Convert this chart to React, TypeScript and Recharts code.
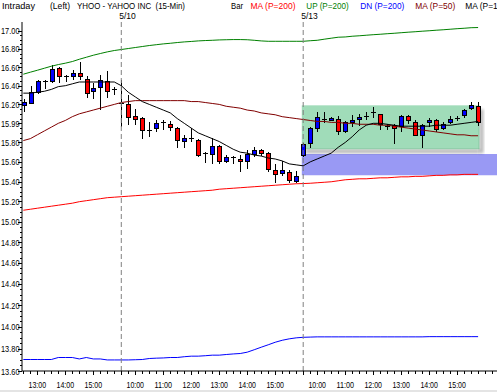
import React from "react";
import {
  ComposedChart,
  Bar,
  Line,
  XAxis,
  YAxis,
  ReferenceArea,
  ReferenceLine,
} from "recharts";

// 15-min bars: 0-13 = 5/9 12:30-15:45, 14-39 = 5/10, 40-65 = 5/13
const opens = [
  16.19, 16.22, 16.33, 16.45, 16.45, 16.59, 16.5, 16.5, 16.54, 16.47, 16.34, 16.39, 16.45, 16.36,
  16.22, 16.2, 16.08, 16.06, 15.93, 15.95, 16.01, 15.99, 15.95, 15.82, 15.85, 15.83, 15.69, 15.68,
  15.76, 15.61, 15.65, 15.63, 15.61, 15.68, 15.72, 15.69, 15.52, 15.49, 15.5, 15.41,
  15.67, 15.79, 15.95, 16.05, 16.04, 16.05, 15.92, 16.01, 16.05, 16.08, 16.12, 16.1, 15.97, 15.98,
  15.97, 16.08, 16.01, 15.88, 16.01, 16.03, 15.95, 16.01, 16.06, 16.09, 16.16, 16.18,
];
const highs = [
  16.26, 16.4, 16.46, 16.46, 16.62, 16.6, 16.52, 16.57, 16.66, 16.5, 16.43, 16.52, 16.56, 16.39,
  16.46, 16.3, 16.15, 16.07, 16.01, 16.03, 16.03, 16.02, 15.96, 15.88, 15.95, 15.84, 15.7, 15.85,
  15.77, 15.67, 15.66, 15.67, 15.72, 15.75, 15.73, 15.7, 15.58, 15.61, 15.52, 15.51,
  15.79, 15.96, 16.12, 16.12, 16.07, 16.08, 16.02, 16.09, 16.1, 16.12, 16.17, 16.1, 15.99, 15.99,
  16.09, 16.09, 16.03, 15.99, 16.06, 16.05, 16.01, 16.08, 16.08, 16.15, 16.23, 16.23,
];
const lows = [
  16.13, 16.21, 16.32, 16.38, 16.44, 16.44, 16.45, 16.47, 16.47, 16.28, 16.27, 16.15, 16.28, 16.31,
  15.97, 15.99, 15.99, 15.85, 15.87, 15.92, 15.94, 15.93, 15.75, 15.75, 15.82, 15.66, 15.6, 15.59,
  15.59, 15.6, 15.59, 15.51, 15.54, 15.66, 15.67, 15.51, 15.4, 15.47, 15.4, 15.4,
  15.66, 15.75, 15.92, 16.01, 16.03, 15.89, 15.91, 15.97, 15.98, 16.05, 16.07, 15.94, 15.94, 15.79,
  15.92, 16.0, 15.88, 15.75, 15.97, 15.92, 15.94, 16.0, 16.03, 16.07, 16.15, 15.98,
];
const closes = [
  16.23, 16.33, 16.45, 16.45, 16.58, 16.51, 16.5, 16.54, 16.5, 16.32, 16.38, 16.46, 16.34, 16.36,
  16.22, 16.07, 16.05, 15.93, 15.93, 16.0, 16.01, 15.96, 15.83, 15.85, 15.85, 15.67, 15.69, 15.76,
  15.61, 15.65, 15.65, 15.61, 15.68, 15.72, 15.69, 15.53, 15.48, 15.52, 15.42, 15.46,
  15.78, 15.95, 16.07, 16.05, 16.06, 15.92, 16.01, 16.04, 16.07, 16.08, 16.12, 15.99, 15.97, 15.95,
  16.08, 16.03, 15.88, 15.98, 16.03, 15.94, 15.99, 16.05, 16.06, 16.14, 16.19, 16.01,
];

const ma10 = [
  16.32, 16.32, 16.33, 16.34, 16.36, 16.39, 16.4, 16.42, 16.44, 16.44, 16.44, 16.44, 16.44, 16.44,
  16.4, 16.33, 16.28, 16.23, 16.2, 16.17, 16.14, 16.11, 16.05, 16.0, 15.95, 15.9, 15.87, 15.84,
  15.81, 15.77, 15.73, 15.7, 15.69, 15.67, 15.66, 15.64, 15.63, 15.61, 15.58, 15.57,
  15.56, 15.6, 15.63, 15.66, 15.69, 15.75, 15.8, 15.86, 15.93, 15.98, 16.0, 16.0, 15.99, 15.98,
  15.97, 15.97, 15.97, 15.97, 15.97, 15.98, 15.98, 15.98, 15.99, 16.0, 16.01, 16.02,
];
const ma50 = [
  15.82, 15.84, 15.88, 15.92, 15.96, 16.0, 16.03, 16.07, 16.1, 16.12, 16.14, 16.16, 16.18, 16.2,
  16.22, 16.23, 16.24, 16.24, 16.24, 16.24, 16.24, 16.24, 16.24, 16.24, 16.23, 16.23, 16.22, 16.21,
  16.2, 16.18, 16.17, 16.16, 16.14, 16.13, 16.11, 16.1, 16.09, 16.07, 16.06, 16.05,
  16.04, 16.03, 16.02, 16.02, 16.01, 16.01, 16.0, 16.0, 15.99, 15.99, 15.99, 15.98, 15.98, 15.97,
  15.96, 15.95, 15.94, 15.93, 15.92, 15.91, 15.9, 15.89, 15.88, 15.88, 15.87, 15.87,
];
const ma200 = [
  15.113, 15.123, 15.133, 15.143, 15.153, 15.163, 15.173, 15.183, 15.198, 15.208, 15.218, 15.228,
  15.238, 15.243,
  15.248, 15.253, 15.258, 15.263, 15.268, 15.273, 15.278, 15.283, 15.288, 15.293, 15.298, 15.303,
  15.308, 15.313, 15.323, 15.328, 15.333, 15.338, 15.343, 15.348, 15.353, 15.358, 15.363, 15.368,
  15.373, 15.378,
  15.38, 15.383, 15.388, 15.393, 15.398, 15.408, 15.418, 15.423, 15.428, 15.428, 15.433, 15.438,
  15.438, 15.443, 15.448, 15.448, 15.453, 15.453, 15.458, 15.463, 15.463, 15.468, 15.468, 15.473,
  15.473, 15.473,
];
const up200 = [
  16.524, 16.546, 16.567, 16.589, 16.611, 16.629, 16.644, 16.662, 16.687, 16.709, 16.731, 16.75,
  16.768, 16.783,
  16.794, 16.805, 16.816, 16.827, 16.838, 16.847, 16.856, 16.863, 16.871, 16.878, 16.883, 16.889,
  16.893, 16.896, 16.9, 16.902, 16.904, 16.904, 16.902, 16.896, 16.889, 16.885, 16.885, 16.885,
  16.885, 16.885,
  16.885, 16.891, 16.896, 16.908, 16.919, 16.93, 16.933, 16.941, 16.946, 16.952, 16.958, 16.963,
  16.969, 16.974, 16.98, 16.986, 16.991, 16.997, 17.002, 17.008, 17.013, 17.019, 17.025, 17.03,
  17.036, 17.038,
];
const dn200 = [
  13.703, 13.703, 13.703, 13.703, 13.703, 13.721, 13.721, 13.721, 13.708, 13.721, 13.708, 13.708,
  13.699, 13.699,
  13.699, 13.699, 13.701, 13.703, 13.712, 13.715, 13.717, 13.721, 13.721, 13.728, 13.733, 13.733,
  13.737, 13.742, 13.742, 13.748, 13.753, 13.757, 13.769, 13.791, 13.814, 13.836, 13.859, 13.877,
  13.89, 13.899,
  13.904, 13.906, 13.908, 13.908, 13.908, 13.908, 13.908, 13.908, 13.908, 13.908, 13.908, 13.908,
  13.908, 13.908, 13.908, 13.908, 13.908, 13.908, 13.91, 13.91, 13.91, 13.91, 13.91, 13.91,
  13.91, 13.91,
];

const xTickIdx = [2, 6, 10, 16, 20, 24, 28, 32, 36, 42, 46, 50, 54, 58, 62];
const xTickLabels = [
  "13:00", "14:00", "15:00",
  "10:00", "11:00", "12:00", "13:00", "14:00", "15:00",
  "10:00", "11:00", "12:00", "13:00", "14:00", "15:00",
];
const dayStarts = [14, 40];
const dayLabels = ["5/10", "5/13"];

const yMajor = [
  13.6, 13.8, 14.0, 14.2, 14.4, 14.6, 14.8, 15.0, 15.2, 15.4, 15.6, 15.8, 16.0, 16.2, 16.4, 16.6,
  16.8, 17.0,
];
const yLabels = [
  "13.60", "13.80", "14.00", "14.20", "14.40", "14.60", "14.80", "15.00", "15.20", "15.40",
  "15.60", "15.80", "15.99", "16.20", "16.40", "16.60", "16.80", "17.00",
];

// highlighted zones
const boxX = [39.8, 65.2];
const boxY = [15.73, 16.19];
const bandX = [39.8, 67.7];
const bandY = [15.465, 15.68];

const X_DOMAIN = [-0.19, 67.7];
const Y_DOMAIN = [13.6, 17.1];

const FONT = "'Liberation Sans', Arial, sans-serif";

const data = opens.map((o, i) => ({
  i,
  range: [lows[i], highs[i]],
  o,
  c: closes[i],
  ma10: ma10[i],
  ma50: ma50[i],
  ma200: ma200[i],
  up200: up200[i],
  dn200: dn200[i],
}));

const yTicks: number[] = [];
yMajor.forEach((m, k) => {
  yTicks.push(m);
  if (k < yMajor.length - 1) [0.05, 0.1, 0.15].forEach((d) => yTicks.push(+(m + d).toFixed(2)));
});
const xTicks: number[] = [];
for (let i = 0; i <= 67; i++) xTicks.push(i);

function Candle(props: any) {
  const { x, y, width, height, payload } = props;
  if (x == null || !payload) return null;
  const top = Math.min(y, y + height);
  const bot = Math.max(y, y + height);
  const [lo, hi] = payload.range;
  const lnL = Math.log(lo);
  const lnH = Math.log(hi);
  const py = (v: number) => bot - ((Math.log(v) - lnL) / (lnH - lnL)) * (bot - top);
  const cx = Math.round(x + width / 2);
  const { o, c } = payload;
  const yT = Math.round(py(Math.max(o, c)));
  const yB = Math.round(py(Math.min(o, c)));
  const col = c > o ? "#0000ff" : "#ff0000";
  return (
    <g>
      <line x1={cx + 0.5} x2={cx + 0.5} y1={Math.round(top)} y2={Math.round(bot) + 1} stroke="#000" />
      {o === c || yB - yT < 1 ? (
        <line x1={cx - 2} x2={cx + 3} y1={yT + 0.5} y2={yT + 0.5} stroke="#000" />
      ) : (
        <rect x={cx - 1.5} y={yT + 0.5} width={4} height={yB - yT} fill={col} stroke="#000" />
      )}
    </g>
  );
}

function XTick(props: any) {
  const { x, y, payload } = props;
  const v = payload.value;
  const k = xTickIdx.indexOf(v);
  const long = k >= 0 || dayStarts.includes(v);
  const px = Math.round(x) + 0.5;
  return (
    <g>
      <line x1={px} x2={px} y1={y} y2={y + (long ? 4 : 3)} stroke="#000" />
      {k >= 0 && (
        <text
          x={x}
          y={y + 16.5}
          textAnchor="middle"
          fontSize={9.5}
          fontFamily={FONT}
          fill="#000"
          textLength={17.5}
          lengthAdjust="spacingAndGlyphs"
        >
          {xTickLabels[k]}
        </text>
      )}
    </g>
  );
}

function YTick(props: any) {
  const { x, y, payload } = props;
  const v = payload.value;
  const k = yMajor.findIndex((m) => Math.abs(m - v) < 1e-6);
  const py = Math.round(y) + 0.5;
  return (
    <g>
      <line x1={x - (k >= 0 ? 4 : 2)} x2={x} y1={py} y2={py} stroke="#000" />
      {k >= 0 && (
        <text
          x={x - 2.5}
          y={y + 3.5}
          textAnchor="end"
          fontSize={9.5}
          fontFamily={FONT}
          fill="#000"
          textLength={18.5}
          lengthAdjust="spacingAndGlyphs"
        >
          {yLabels[k]}
        </text>
      )}
    </g>
  );
}

function GreenBox(props: any) {
  const { x, y, width, height } = props;
  return (
    <g>
      <defs>
        <filter id="soft" x="-20%" y="-20%" width="140%" height="140%">
          <feGaussianBlur stdDeviation="1.5" />
        </filter>
      </defs>
      <rect x={x + width} y={y + 4} width={4} height={height} fill="#000" opacity={0.28} filter="url(#soft)" />
      <rect x={x + 4} y={y + height} width={width - 4} height={4} fill="#000" opacity={0.28} filter="url(#soft)" />
      <rect x={x} y={y} width={width} height={height} fill="rgb(18,168,80)" fillOpacity={0.4} />
    </g>
  );
}

function DayLabel(text: string) {
  return (p: any) => {
    const vb = p.viewBox || {};
    return (
      <text x={vb.x - 2} y={19} fontSize={8.5} fontFamily={FONT} fill="#000">
        {text}
      </text>
    );
  };
}

const header = [
  { t: "Intraday", x: 2, w: 33, c: "#000" },
  { t: "(Left)", x: 50, w: 20, c: "#000" },
  { t: "YHOO - YAHOO INC  (15-Min)", x: 77, w: 108, c: "#000" },
  { t: "Bar", x: 231, w: 12, c: "#000" },
  { t: "MA (P=200)", x: 250.5, w: 45, c: "#ff0000" },
  { t: "UP (P=200)", x: 306.3, w: 42.4, c: "#008000" },
  { t: "DN (P=200)", x: 360.3, w: 44, c: "#0000ff" },
  { t: "MA (P=50)", x: 415.3, w: 40, c: "#800000" },
  { t: "MA (P=10)", x: 465.3, w: 40, c: "#000" },
];

export default function App() {
  return (
    <div
      style={{
        position: "absolute",
        left: 0,
        top: 0,
        width: 497,
        height: 392,
        overflow: "hidden",
        background: "#fff",
        fontFamily: FONT,
      }}
    >
      <ComposedChart width={497} height={392} data={data} margin={{ top: 22, right: 0, bottom: 0, left: 0 }}>
        <XAxis
          type="number"
          dataKey="i"
          domain={X_DOMAIN}
          allowDataOverflow
          ticks={xTicks}
          interval={0}
          tick={(p: any) => <XTick {...p} />}
          tickLine={false}
          tickSize={0}
          tickMargin={0}
          height={21}
          axisLine={{ stroke: "#000" }}
        />
        <YAxis
          type="number"
          scale="log"
          domain={Y_DOMAIN}
          allowDataOverflow
          ticks={yTicks}
          interval={0}
          tick={(p: any) => <YTick {...p} />}
          tickLine={false}
          tickSize={0}
          tickMargin={0}
          width={22}
          axisLine={{ stroke: "#000" }}
        />
        <Bar dataKey="range" isAnimationActive={false} shape={(p: any) => <Candle {...p} />} />
        <Line dataKey="ma200" stroke="#ff0000" strokeWidth={1} dot={false} activeDot={false} isAnimationActive={false} />
        <Line dataKey="up200" stroke="#008000" strokeWidth={1} dot={false} activeDot={false} isAnimationActive={false} />
        <Line dataKey="dn200" stroke="#0000ff" strokeWidth={1} dot={false} activeDot={false} isAnimationActive={false} />
        <Line dataKey="ma50" stroke="#800000" strokeWidth={1} dot={false} activeDot={false} isAnimationActive={false} />
        <Line dataKey="ma10" stroke="#000000" strokeWidth={1} dot={false} activeDot={false} isAnimationActive={false} />
        <ReferenceArea
          x1={bandX[0]}
          x2={bandX[1]}
          y1={bandY[0]}
          y2={bandY[1]}
          fill="rgb(70,70,235)"
          fillOpacity={0.55}
          stroke="none"
        />
        <ReferenceArea
          x1={boxX[0]}
          x2={boxX[1]}
          y1={boxY[0]}
          y2={boxY[1]}
          shape={(p: any) => <GreenBox {...p} />}
        />
        {dayStarts.map((d, k) => (
          <ReferenceLine
            key={d}
            x={d}
            stroke="#808080"
            strokeDasharray="5 3"
            label={{ content: DayLabel(dayLabels[k]) }}
          />
        ))}
      </ComposedChart>
      <svg
        width={497}
        height={22}
        style={{ position: "absolute", left: 0, top: 0, pointerEvents: "none" }}
      >
        {header.map((h) => (
          <text
            key={h.t}
            x={h.x}
            y={9}
            fontSize={9}
            fontFamily={FONT}
            fill={h.c}
            textLength={h.w}
            lengthAdjust="spacingAndGlyphs"
            style={{ whiteSpace: "pre" }}
          >
            {h.t}
          </text>
        ))}
      </svg>
      <div style={{ position: "absolute", left: 0, top: 390, width: 497, height: 2, background: "#e4e4e4" }} />
    </div>
  );
}
